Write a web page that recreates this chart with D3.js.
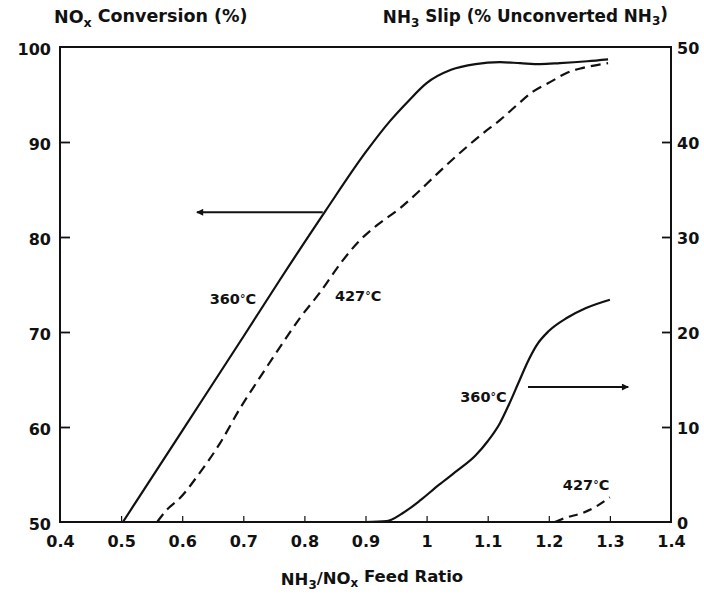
<!DOCTYPE html>
<html>
<head>
<meta charset="utf-8">
<script src="https://cdn.jsdelivr.net/npm/d3@7"></script>
<style>
  html, body { margin: 0; padding: 0; background: #fff; }
  svg { display: block; }
  text { font-family: "DejaVu Sans", "Liberation Sans", sans-serif; font-weight: bold; fill: #111; }
</style>
</head>
<body>
<svg id="chart" width="704" height="597"></svg>
<script>
// ---------- data ----------
const xTicks = [0.4, 0.5, 0.6, 0.7, 0.8, 0.9, 1.0, 1.1, 1.2, 1.3, 1.4];
const xTickLabels = ["0.4", "0.5", "0.6", "0.7", "0.8", "0.9", "1", "1.1", "1.2", "1.3", "1.4"];
const leftTicks = [50, 60, 70, 80, 90, 100];
const rightTicks = [0, 10, 20, 30, 40, 50];

// NOx conversion (%), 360 °C, solid
const conv360Ratio = [0.503, 0.6, 0.7, 0.76, 0.834, 0.9, 0.94, 0.97, 1.0, 1.04, 1.08, 1.12, 1.153, 1.186, 1.218, 1.263, 1.297];
const conv360 =      [50, 59.6, 69.5, 75.5, 82.7, 88.9, 92.2, 94.3, 96.2, 97.6, 98.2, 98.4, 98.3, 98.2, 98.3, 98.5, 98.7];

// NOx conversion (%), 427 °C, dashed
const conv427Ratio = [0.559, 0.575, 0.596, 0.629, 0.662, 0.695, 0.727, 0.76, 0.793, 0.826, 0.86, 0.89, 0.92, 0.956, 0.984, 1.01, 1.038, 1.066, 1.092, 1.12, 1.148, 1.174, 1.202, 1.23, 1.256, 1.297];
const conv427 =      [50, 51.3, 52.5, 55.2, 58.3, 62.0, 65.2, 68.4, 71.5, 74.2, 77.3, 79.6, 81.3, 83.0, 84.6, 86.2, 87.9, 89.5, 90.9, 92.3, 93.9, 95.3, 96.3, 97.3, 97.8, 98.3];

// NH3 slip (% unconverted NH3), 360 °C, solid
const slip360Ratio = [0.9, 0.935, 0.96, 0.99, 1.02, 1.05, 1.08, 1.1, 1.12, 1.135, 1.15, 1.165, 1.18, 1.2, 1.23, 1.26, 1.3];
const slip360 =      [0, 0.1, 0.9, 2.3, 3.9, 5.4, 7.0, 8.5, 10.4, 12.4, 14.6, 16.8, 18.6, 20.1, 21.5, 22.5, 23.4];

// NH3 slip (% unconverted NH3), 427 °C, dashed
const slip427Ratio = [1.21, 1.23, 1.253, 1.274, 1.3];
const slip427 =      [0, 0.5, 0.9, 1.5, 2.6];

// annotation anchors (data units)
const leftArrow = { x0: 0.830, x1: 0.624, y: 82.6 };   // points to left axis
const rightArrow = { x0: 1.166, x1: 1.33, y: 14.2 };   // points to right axis (slip units)
const curveLabels = [
  { text: "360", axis: "L", x: 0.645, y: 73.5 },
  { text: "427", axis: "L", x: 0.850, y: 73.8 },
  { text: "360", axis: "R", x: 1.055, y: 13.2 },
  { text: "427", axis: "R", x: 1.223, y: 3.9 }
];

// ---------- scales ----------
const svg = d3.select("#chart");
const x = d3.scaleLinear().domain([0.4, 1.4]).range([60, 671]);
const yL = d3.scaleLinear().domain([50, 100]).range([522, 47]);
const yR = d3.scaleLinear().domain([0, 50]).range([522, 47]);

// arrow marker
const defs = svg.append("defs");
defs.append("marker")
  .attr("id", "ah").attr("viewBox", "0 0 10 10")
  .attr("refX", 9).attr("refY", 5)
  .attr("markerWidth", 9).attr("markerHeight", 7)
  .attr("markerUnits", "userSpaceOnUse")
  .attr("orient", "auto")
  .append("path").attr("d", "M0,0 L10,5 L0,10 Z").attr("fill", "#111");

// ---------- axes ----------
const fs = 16;
const gx = svg.append("g").attr("transform", `translate(0,${yL.range()[0]})`)
  .call(d3.axisBottom(x).tickValues(xTicks).tickFormat((d, i) => xTickLabels[i])
    .tickSizeInner(-6).tickSizeOuter(0).tickPadding(14));
gx.selectAll(".tick").filter(d => d === 0.4 || d === 1.4).select("line").remove();

const gl = svg.append("g").attr("transform", `translate(${x.range()[0]},0)`)
  .call(d3.axisLeft(yL).tickValues(leftTicks).tickSizeInner(-10).tickSizeOuter(0).tickPadding(9));
gl.selectAll(".tick").filter(d => d === 50 || d === 100).select("line").remove();

const gr = svg.append("g").attr("transform", `translate(${x.range()[1]},0)`)
  .call(d3.axisRight(yR).tickValues(rightTicks).tickSizeInner(-9).tickSizeOuter(0).tickPadding(6));
gr.selectAll(".tick").filter(d => d === 0 || d === 50).select("line").remove();

[gx, gl, gr].forEach(g => {
  g.select(".domain").remove();
  g.selectAll(".tick line").attr("stroke", "#111").attr("stroke-width", g === gx ? 1.2 : 1.8);
  g.selectAll(".tick text")
    .attr("fill", "#111")
    .style("font-family", '"DejaVu Sans", sans-serif')
    .style("font-weight", "bold")
    .style("font-size", fs + "px");
});
gl.selectAll(".tick text").attr("dy", "0.45em");
gr.selectAll(".tick text").attr("dy", "0.4em");

// frame
svg.append("rect")
  .attr("x", x.range()[0]).attr("y", yL.range()[1])
  .attr("width", x.range()[1] - x.range()[0])
  .attr("height", yL.range()[0] - yL.range()[1])
  .attr("fill", "none").attr("stroke", "#111").attr("stroke-width", 2);

// ---------- curves ----------
const lineL = d3.line().x(d => x(d[0])).y(d => yL(d[1])).curve(d3.curveMonotoneX);
const lineR = d3.line().x(d => x(d[0])).y(d => yR(d[1])).curve(d3.curveMonotoneX);
const zip = (a, b) => a.map((v, i) => [v, b[i]]);

const curves = [
  { pts: zip(conv360Ratio, conv360), gen: lineL, dash: null },
  { pts: zip(conv427Ratio, conv427), gen: lineL, dash: "10,6" },
  { pts: zip(slip360Ratio, slip360), gen: lineR, dash: null },
  { pts: zip(slip427Ratio, slip427), gen: lineR, dash: "9,6" }
];
svg.append("g").selectAll("path").data(curves).join("path")
  .attr("d", c => c.gen(c.pts))
  .attr("fill", "none").attr("stroke", "#111").attr("stroke-width", 2.2)
  .attr("stroke-linejoin", "round")
  .attr("stroke-dasharray", c => c.dash);

// ---------- arrows ----------
svg.append("line")
  .attr("x1", x(leftArrow.x0)).attr("x2", x(leftArrow.x1))
  .attr("y1", yL(leftArrow.y)).attr("y2", yL(leftArrow.y))
  .attr("stroke", "#111").attr("stroke-width", 2).attr("marker-end", "url(#ah)");
svg.append("line")
  .attr("x1", x(rightArrow.x0)).attr("x2", x(rightArrow.x1))
  .attr("y1", yR(rightArrow.y)).attr("y2", yR(rightArrow.y))
  .attr("stroke", "#111").attr("stroke-width", 2).attr("marker-end", "url(#ah)");

// ---------- curve labels ----------
curveLabels.forEach(l => {
  const t = svg.append("text")
    .attr("x", x(l.x))
    .attr("y", (l.axis === "L" ? yL(l.y) : yR(l.y)))
    .attr("dy", "0.36em")
    .style("font-size", "14.5px");
  t.append("tspan").text(l.text);
  t.append("tspan").text("°").attr("font-size", "11px").attr("dy", "-2");
  t.append("tspan").text("C").attr("dy", "2");
});

// ---------- titles ----------
function sub(t, s) {
  t.append("tspan").text(s).attr("font-size", "0.72em").attr("dy", "0.3em");
}
function unsub(t, s) {
  t.append("tspan").text(s).attr("dy", "-0.3em");
}
const tl = svg.append("text").attr("x", 54).attr("y", 23).style("font-size", "17.5px");
tl.append("tspan").text("NO");
sub(tl, "x");
unsub(tl, " Conversion (%)");

const tr = svg.append("text").attr("x", 668).attr("y", 23).attr("text-anchor", "end").style("font-size", "16.8px");
tr.append("tspan").text("NH");
sub(tr, "3");
unsub(tr, " Slip (% Unconverted NH");
sub(tr, "3");
unsub(tr, ")");

const tx = svg.append("text").attr("x", 372).attr("y", 585).attr("text-anchor", "middle").style("font-size", "16.5px");
tx.append("tspan").text("NH");
sub(tx, "3");
unsub(tx, "/NO");
sub(tx, "x");
unsub(tx, " Feed Ratio");
</script>
</body>
</html>
